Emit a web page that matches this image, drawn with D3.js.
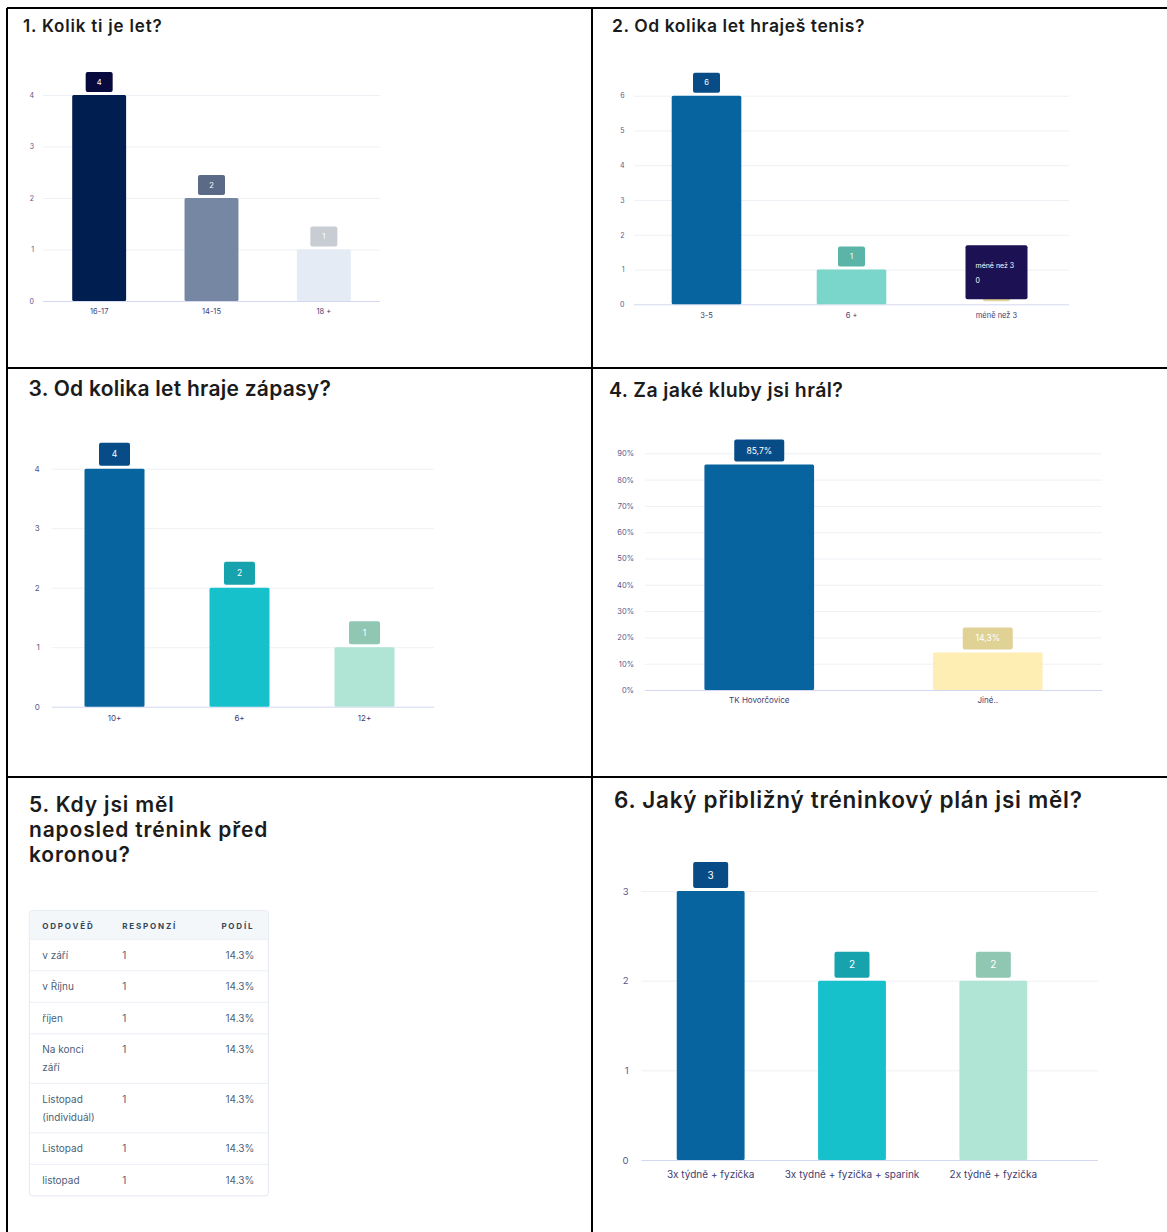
<!DOCTYPE html>
<html>
<head>
<meta charset="utf-8">
<script src="https://cdn.jsdelivr.net/npm/d3@7"></script>
<style>
  body { margin: 0; background: #fff; }
  svg { display: block; }
  text { font-family: Inter, "Noto Sans", sans-serif; }
</style>
</head>
<body>
<div id="chart"></div>
<script>
// --- data ---
const q1Categories = ['16-17', '14-15', '18 +'];
const q1Values = [4, 2, 1];
const q1Ticks = [0, 1, 2, 3, 4];

const q2Categories = ['3-5', '6 +', 'méně než 3'];
const q2Values = [6, 1, 0];
const q2Ticks = [0, 1, 2, 3, 4, 5, 6];

const q3Categories = ['10+', '6+', '12+'];
const q3Values = [4, 2, 1];
const q3Ticks = [0, 1, 2, 3, 4];

const q4Categories = ['TK Hovorčovice', 'Jiné..'];
const q4Values = [0.857, 0.143];
const q4Ticks = [0, 0.1, 0.2, 0.3, 0.4, 0.5, 0.6, 0.7, 0.8, 0.9];

const q5Answers = ['v září', 'v Říjnu', 'říjen', 'Na konci\nzáří', 'Listopad\n(individuál)', 'Listopad', 'listopad'];
const q5Responses = [1, 1, 1, 1, 1, 1, 1];
const q5Shares = [0.143, 0.143, 0.143, 0.143, 0.143, 0.143, 0.143];
const q5Header = ['ODPOVĚĎ', 'RESPONZÍ', 'PODÍL'];

const q6Categories = ['3x týdně + fyzička', '3x tydně + fyzička + sparink', '2x týdně + fyzička'];
const q6Values = [3, 2, 2];
const q6Ticks = [0, 1, 2, 3];

const titles = [
  '1. Kolik ti je let?',
  '2. Od kolika let hraješ tenis?',
  '3. Od kolika let hraje zápasy?',
  '4. Za jaké kluby jsi hrál?',
  '5. Kdy jsi měl\nnaposled trénink před\nkoronou?',
  '6. Jaký přibližný tréninkový plán jsi měl?'
];

const width = 1167;
const height = 1232;

const navy = ['#001e50', '#7587a3', '#e4ebf4'];
const navyBox = ['#08093c', '#5b6a87', '#c8cdd4'];
const teal = ['#07649e', '#16c1cb', '#b0e5d5'];
const tealBox = ['#074c87', '#16a3ad', '#8fc7b3'];

const svg = d3.select('#chart')
  .append('svg')
  .attr('width', width)
  .attr('height', height)
  .attr('viewBox', [0, 0, width, height]);

// panel borders
const borders = [
  [7, 8, 1167, 8], [7, 8, 7, 1232], [592, 8, 592, 1232],
  [7, 368, 1167, 368], [7, 777, 1167, 777]
];
svg.append('g')
  .selectAll('line')
  .data(borders)
  .join('line')
  .attr('x1', d => d[0]).attr('y1', d => d[1])
  .attr('x2', d => d[2]).attr('y2', d => d[3])
  .attr('stroke', '#000')
  .attr('stroke-width', 2);

function title(txt, x, y, size, ls, lh) {
  svg.append('text')
    .attr('x', x)
    .attr('y', y)
    .attr('font-size', size)
    .attr('font-weight', 600)
    .attr('letter-spacing', ls)
    .attr('fill', '#1b1b1b')
    .selectAll('tspan')
    .data(txt.split('\n'))
    .join('tspan')
    .attr('x', x)
    .attr('dy', (d, i) => i ? lh : 0)
    .text(d => d);
}

function barChart(o) {
  const g = svg.append('g');
  const y = d3.scaleLinear().domain(o.yDomain).range(o.yRange);
  const x = d3.scaleBand()
    .domain(o.cats)
    .range(o.bandRange)
    .paddingInner(0.52)
    .paddingOuter(0.26);

  g.append('g')
    .attr('transform', `translate(${o.gridRange[0]},0)`)
    .call(d3.axisLeft(y)
      .tickValues(o.ticks)
      .tickFormat(o.tickFormat || d3.format('d'))
      .tickSize(-(o.gridRange[1] - o.gridRange[0]))
      .tickPadding(o.tickPad))
    .call(a => a.select('.domain').remove())
    .call(a => a.selectAll('line')
      .attr('stroke', d => d === 0 ? '#d3d8f0' : '#eef0f5'))
    .call(a => a.selectAll('text')
      .attr('fill', '#5a588c')
      .attr('font-family', 'Inter')
      .attr('font-size', o.tickFont));

  g.append('g')
    .attr('transform', `translate(0,${o.yRange[0]})`)
    .call(d3.axisBottom(x).tickSize(0).tickPadding(o.xPad))
    .call(a => a.select('.domain').remove())
    .call(a => a.selectAll('text')
      .attr('fill', '#3f3d72')
      .attr('font-family', 'Inter')
      .attr('font-size', o.xFont));

  g.append('g')
    .selectAll('rect')
    .data(o.vals)
    .join('rect')
    .attr('x', (d, i) => x(o.cats[i]))
    .attr('y', d => y(d))
    .attr('width', x.bandwidth())
    .attr('height', d => y(0) - y(d))
    .attr('rx', 1.5)
    .attr('fill', (d, i) => o.colors[i]);

  const lab = g.append('g')
    .selectAll('g')
    .data(o.vals)
    .join('g')
    .attr('transform', (d, i) =>
      `translate(${x(o.cats[i]) + x.bandwidth() / 2},${y(d) - 3 - o.boxH})`);
  lab.append('rect')
    .attr('x', -o.boxW / 2)
    .attr('width', o.boxW)
    .attr('height', o.boxH)
    .attr('rx', 2)
    .attr('fill', (d, i) => o.boxColors[i]);
  lab.append('text')
    .attr('y', o.boxH / 2)
    .attr('dy', '0.35em')
    .attr('text-anchor', 'middle')
    .attr('font-size', o.boxFont)
    .attr('fill', '#fff')
    .text(o.labelFormat || (d => d));

  return { x, y, g };
}

// 1
title(titles[0], 23, 32, 17, 0.8);
barChart({
  cats: q1Categories, vals: q1Values, ticks: q1Ticks,
  yDomain: [0, 4], yRange: [301, 95],
  gridRange: [43, 380], bandRange: [43, 380],
  tickFont: 7, tickPad: 9, xFont: 7.5, xPad: 7.5,
  boxW: 27, boxH: 20, boxFont: 7.5,
  colors: navy, boxColors: navyBox
});

// 2
title(titles[1], 612, 32, 17.5, 0.57);
const c2 = barChart({
  cats: q2Categories, vals: q2Values, ticks: q2Ticks,
  yDomain: [0, 6], yRange: [304.3, 95.7],
  gridRange: [634, 1069], bandRange: [634, 1069],
  tickFont: 7, tickPad: 9.5, xFont: 7.5, xPad: 8,
  boxW: 27, boxH: 20, boxFont: 7.5,
  colors: ['#07649e', '#7ad5ca', '#ffeeb3'],
  boxColors: ['#074c87', '#5ab5a8', '#e2d396']
});
// hover tooltip on the zero bar
{
  const cx = c2.x(q2Categories[2]) + c2.x.bandwidth() / 2;
  const tip = c2.g.append('g')
    .attr('transform', `translate(${cx - 31},${c2.y(0) - 59})`);
  tip.append('rect')
    .attr('width', 62)
    .attr('height', 54)
    .attr('rx', 2)
    .attr('fill', '#1c1152');
  tip.append('text')
    .attr('x', 10).attr('y', 23)
    .attr('font-size', 7).attr('fill', '#fff')
    .text(q2Categories[2]);
  tip.append('text')
    .attr('x', 10).attr('y', 38)
    .attr('font-size', 7).attr('fill', '#fff')
    .text(q2Values[2]);
}

// 3
title(titles[2], 28.5, 396, 21, 0.25);
barChart({
  cats: q3Categories, vals: q3Values, ticks: q3Ticks,
  yDomain: [0, 4], yRange: [706.7, 468.7],
  gridRange: [51.7, 434], bandRange: [52, 427],
  tickFont: 8, tickPad: 12, xFont: 8, xPad: 8.5,
  boxW: 31, boxH: 23, boxFont: 8.5,
  colors: teal, boxColors: tealBox
});

// 4
title(titles[3], 609, 397, 19.5, 0.4);
barChart({
  cats: q4Categories, vals: q4Values, ticks: q4Ticks,
  tickFormat: d3.format('.0%'),
  yDomain: [0, 0.9], yRange: [690, 453.3],
  gridRange: [645, 1102], bandRange: [645, 1102],
  tickFont: 7.5, tickPad: 11, xFont: 8, xPad: 7.5,
  boxW: 50, boxH: 22, boxFont: 8.5,
  colors: ['#07649e', '#ffeeb3'], boxColors: ['#074c87', '#e0d295'],
  labelFormat: d => d3.format('.1%')(d).replace('.', ',')
});

// 5 - table
title(titles[4], 29, 811.5, 21, 0.85, 25);
{
  const tx = 29.3, tw = 239, top = 910.7, headH = 28.6;
  const rowH = q5Answers.map(a => 31.5 + 18 * (a.split('\n').length - 1));
  const rowY = d3.cumsum([top + headH, ...rowH]);
  const t = svg.append('g');
  t.append('rect')
    .attr('x', tx).attr('y', top)
    .attr('width', tw).attr('height', rowY[rowY.length - 1] - top)
    .attr('rx', 3)
    .attr('fill', '#fff')
    .attr('stroke', '#e3e8ef');
  t.append('path')
    .attr('d', `M${tx + 0.5},${top + headH}V${top + 3}q0,-2.5 2.5,-2.5H${tx + tw - 3}q2.5,0 2.5,2.5V${top + headH}Z`)
    .attr('fill', '#f4f7fa');
  t.append('g')
    .selectAll('line')
    .data(rowY.slice(0, -1))
    .join('line')
    .attr('x1', tx + 0.5).attr('x2', tx + tw - 0.5)
    .attr('y1', d => d).attr('y2', d => d)
    .attr('stroke', '#eaeff5');
  const colX = [42.3, 122.3, 254.3];
  t.append('g')
    .selectAll('text')
    .data(q5Header)
    .join('text')
    .attr('x', (d, i) => colX[i])
    .attr('y', top + 17.8)
    .attr('text-anchor', (d, i) => i === 2 ? 'end' : 'start')
    .attr('font-size', 8)
    .attr('font-weight', 700)
    .attr('letter-spacing', 1.8)
    .attr('fill', '#33475b')
    .text(d => d);
  const rows = t.append('g')
    .selectAll('g')
    .data(q5Answers)
    .join('g')
    .attr('transform', (d, i) => `translate(0,${rowY[i] + 19.5})`)
    .attr('font-size', 10)
    .attr('fill', '#4c5f78');
  rows.append('text')
    .attr('x', colX[0])
    .selectAll('tspan')
    .data(d => d.split('\n'))
    .join('tspan')
    .attr('x', colX[0])
    .attr('dy', (d, i) => i ? 18 : 0)
    .text(d => d);
  rows.append('text')
    .attr('x', colX[1])
    .text((d, i) => q5Responses[i]);
  rows.append('text')
    .attr('x', colX[2])
    .attr('text-anchor', 'end')
    .text((d, i) => d3.format('.1%')(q5Shares[i]));
}

// 6
title(titles[5], 614, 808, 22.5, 0.72);
barChart({
  cats: q6Categories, vals: q6Values, ticks: q6Ticks,
  yDomain: [0, 3], yRange: [1160, 891],
  gridRange: [641.5, 1098], bandRange: [640, 1064],
  tickFont: 9.5, tickPad: 13, xFont: 10, xPad: 10.5,
  boxW: 35, boxH: 26, boxFont: 10,
  colors: teal, boxColors: tealBox
});
</script>
</body>
</html>
